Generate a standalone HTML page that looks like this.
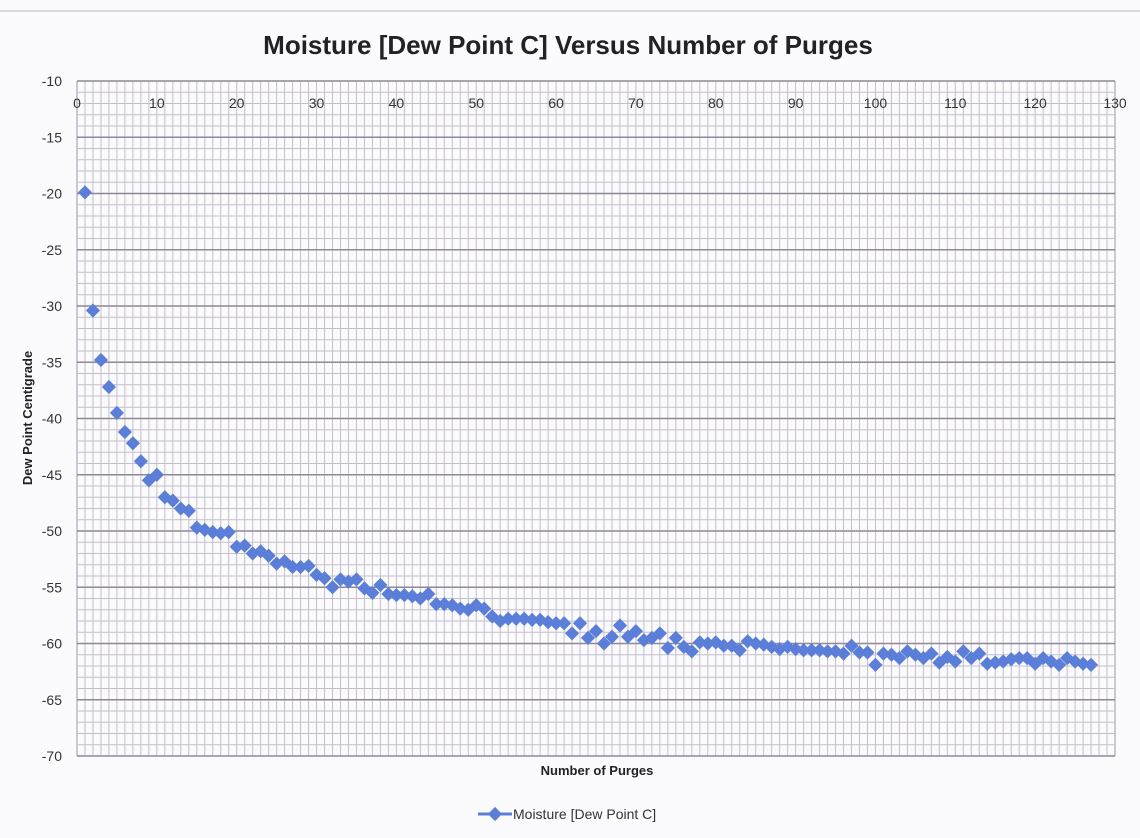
<!DOCTYPE html>
<html><head><meta charset="utf-8"><style>
body{margin:0;background:#fbfafc;}
svg{display:block;font-family:"Liberation Sans",sans-serif;}
</style></head><body>
<svg id="chart" width="1140" height="838" viewBox="0 0 1140 838">
<line x1="0" y1="11" x2="1140" y2="11" stroke="#bbb" stroke-width="1"/>
<text x="568" y="54" text-anchor="middle" font-size="26" font-weight="bold" fill="#222">Moisture [Dew Point C] Versus Number of Purges</text>
<g id="grid"></g>
<g id="yticks"></g>
<g id="xticks"></g>
<g id="points"></g>
<text x="597" y="775" text-anchor="middle" font-size="13" font-weight="bold" fill="#222">Number of Purges</text>
<text transform="translate(32,418) rotate(-90)" text-anchor="middle" font-size="13" font-weight="bold" fill="#222">Dew Point Centigrade</text>
<g>
<line x1="478" y1="814" x2="512" y2="814" stroke="#5b7fd8" stroke-width="3"/>
<rect x="490" y="809" width="10" height="10" fill="#5b7fd8" transform="rotate(45 495 814)"/>
<text x="513" y="819" font-size="14" fill="#333">Moisture [Dew Point C]</text>
</g>
</svg>
<script>
const yValues=[-19.9,-30.4,-34.8,-37.2,-39.5,-41.2,-42.2,-43.8,-45.5,-45.0,-47.0,-47.3,-48.0,-48.2,-49.7,-49.9,-50.1,-50.2,-50.1,-51.4,-51.3,-52.0,-51.8,-52.2,-52.9,-52.7,-53.2,-53.2,-53.1,-53.9,-54.2,-55.0,-54.3,-54.5,-54.3,-55.1,-55.5,-54.8,-55.6,-55.7,-55.7,-55.8,-56.0,-55.6,-56.5,-56.5,-56.6,-56.9,-57.0,-56.6,-56.9,-57.6,-58.0,-57.8,-57.8,-57.8,-57.9,-57.9,-58.1,-58.2,-58.2,-59.1,-58.2,-59.5,-58.9,-60.0,-59.4,-58.4,-59.4,-58.9,-59.7,-59.5,-59.1,-60.4,-59.5,-60.3,-60.7,-59.9,-60.0,-59.9,-60.2,-60.2,-60.6,-59.8,-60.0,-60.1,-60.3,-60.5,-60.3,-60.5,-60.6,-60.6,-60.6,-60.7,-60.7,-60.9,-60.2,-60.8,-60.8,-61.9,-60.9,-61.0,-61.3,-60.7,-61.0,-61.3,-60.9,-61.7,-61.2,-61.6,-60.7,-61.3,-60.9,-61.8,-61.7,-61.6,-61.4,-61.3,-61.3,-61.8,-61.3,-61.6,-61.9,-61.3,-61.6,-61.8,-61.9];
const xValues=yValues.map((_,i)=>i+1);
const yTickLabels=[-10,-15,-20,-25,-30,-35,-40,-45,-50,-55,-60,-65,-70];
const xTickLabels=[0,10,20,30,40,50,60,70,80,90,100,110,120,130];
const L=77,R=1115,T=81,B=756,XMIN=0,XMAX=130,YMIN=-70,YMAX=-10;
const sx=v=>L+(v-XMIN)/(XMAX-XMIN)*(R-L);
const sy=v=>B-(v-YMIN)/(YMAX-YMIN)*(B-T);
const NS='http://www.w3.org/2000/svg';
function mk(tag,attrs,parent){const e=document.createElementNS(NS,tag);for(const k in attrs)e.setAttribute(k,attrs[k]);parent.appendChild(e);return e;}
const grid=document.getElementById('grid');
for(let x=XMIN;x<=XMAX;x++){const l=mk('line',{x1:sx(x),x2:sx(x),y1:T,y2:B,stroke:(x===XMIN||x===XMAX)?'#9d96a6':'#c4bfcb','stroke-width':1},grid);

}
for(let y=YMIN;y<=YMAX;y++){const l=mk('line',{x1:L,x2:R,y1:sy(y),y2:sy(y),stroke:y%5===0?'#8f8898':'#c4bfcb','stroke-width':y%5===0?1.4:1},grid);

}
const yt=document.getElementById('yticks');
yTickLabels.forEach(v=>{const t=mk('text',{x:62,y:sy(v)+5,'text-anchor':'end','font-size':14,fill:'#333'},yt);t.textContent=v;

});
const xt=document.getElementById('xticks');
xTickLabels.forEach(v=>{const t=mk('text',{x:sx(v),y:108,'text-anchor':'middle','font-size':14,fill:'#333'},xt);t.textContent=v;

});
const pts=document.getElementById('points');
yValues.forEach((v,i)=>{const cx=sx(xValues[i]),cy=sy(v);
const r=mk('rect',{x:cx-5,y:cy-5,width:10,height:10,fill:'#5b7fd8',transform:`rotate(45 ${cx} ${cy})`},pts);

});
</script>
</body></html>
